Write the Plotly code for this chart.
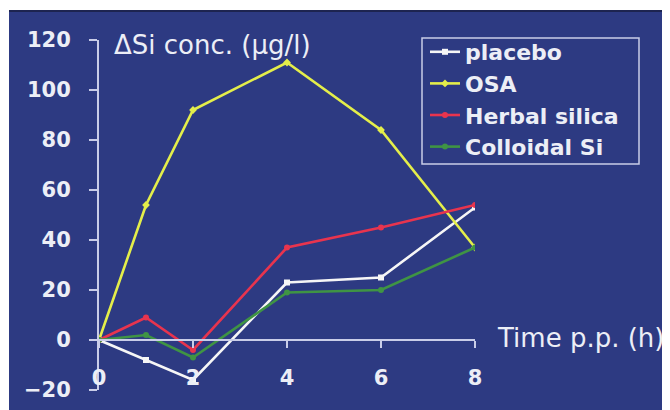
import plotly.graph_objects as go

# ---- data ----
time_h = [0, 1, 2, 4, 6, 8]
placebo = [0, -8, -16, 23, 25, 53]
osa = [0, 54, 92, 111, 84, 37]
herbal_silica = [0, 9, -4, 37, 45, 54]
colloidal_si = [0, 2, -7, 19, 20, 37]
y_ticks = [-20, 0, 20, 40, 60, 80, 100, 120]
x_ticks = [0, 2, 4, 6, 8]

# ---- layout geometry (window pixels; page body adds an 8px offset) ----
W, H = 670, 410
OFF = 8
ML, MT = 99 - OFF, 40 - OFF
MR = W - (475 - OFF)
MB = H - (390 - OFF)
PW, PH = W - ML - MR, H - MT - MB


def px(xw):
    return (xw - OFF - ML) / PW


def py(yw):
    return (H - MB - (yw - OFF)) / PH


NAVY = "#2d3a82"
TXT = "#eceef6"
AX = "#c9cde8"
FONT = "DejaVu Sans"

fig = go.Figure()
series = [
    ("placebo", placebo, "#f6f6f6", "square"),
    ("OSA", osa, "#e4ee4a", "diamond"),
    ("Herbal silica", herbal_silica, "#e8344e", "circle"),
    ("Colloidal Si", colloidal_si, "#3f9444", "circle"),
]
for name, vals, col, sym in series:
    fig.add_trace(go.Scatter(
        x=time_h, y=vals, name=name, mode="lines+markers",
        line=dict(color=col, width=2.6),
        marker=dict(color=col, size=6, symbol=sym),
    ))

fig.update_layout(
    width=W, height=H,
    margin=dict(l=ML, r=MR, t=MT, b=MB, pad=0, autoexpand=False),
    paper_bgcolor="white",
    plot_bgcolor="rgba(0,0,0,0)",
    showlegend=True,
    legend=dict(
        x=px(425), y=py(31), xanchor="left", yanchor="top",
        bgcolor="rgba(0,0,0,0)", borderwidth=0,
        font=dict(family=FONT, size=22, color=TXT, weight="bold"),
        tracegroupgap=0, itemwidth=30,
    ),
    xaxis=dict(
        range=[0, 8], tickvals=x_ticks, ticktext=[str(v) for v in x_ticks],
        showgrid=False, zeroline=False, automargin=False,
        showline=True, linecolor=AX, linewidth=2,
        ticks="outside", ticklen=7, tickwidth=2, tickcolor=AX,
        anchor="free", position=(0 - (-20)) / 140,
        ticklabelstandoff=12,
        tickfont=dict(family=FONT, size=21, color=TXT, weight="bold"),
    ),
    yaxis=dict(
        range=[-20, 120], tickvals=y_ticks,
        showgrid=False, zeroline=False, automargin=False,
        showline=True, linecolor=AX, linewidth=2,
        ticks="outside", ticklen=8, tickwidth=2, tickcolor=AX,
        ticklabelstandoff=14,
        tickfont=dict(family=FONT, size=21, color=TXT, weight="bold"),
    ),
    shapes=[
        dict(type="rect", xref="paper", yref="paper", layer="below",
             x0=px(9), x1=px(668), y0=py(H + 20), y1=py(10),
             fillcolor=NAVY, line=dict(width=0)),
        dict(type="line", xref="paper", yref="paper", layer="below",
             x0=px(9), x1=px(668), y0=py(11), y1=py(11),
             line=dict(color="#1d2450", width=2)),
        dict(type="rect", xref="paper", yref="paper", layer="below",
             x0=px(422), x1=px(639), y0=py(164), y1=py(38),
             fillcolor="rgba(0,0,0,0)", line=dict(color=AX, width=1.5)),
        dict(type="line", xref="paper", yref="y", layer="below",
             x0=px(90), x1=px(99), y0=0, y1=0,
             line=dict(color=AX, width=2)),
    ],
    annotations=[
        dict(text="ΔSi conc. (µg/l)", xref="paper", yref="paper",
             x=px(112), y=py(45), xanchor="left", yanchor="middle",
             showarrow=False, font=dict(family=FONT, size=26, color=TXT)),
        dict(text="Time p.p. (h)", xref="paper", yref="paper",
             x=px(495), y=py(338), xanchor="left", yanchor="middle",
             showarrow=False, font=dict(family=FONT, size=26, color=TXT)),
    ],
)

fig.write_html("out.html", config={"displayModeBar": False})
